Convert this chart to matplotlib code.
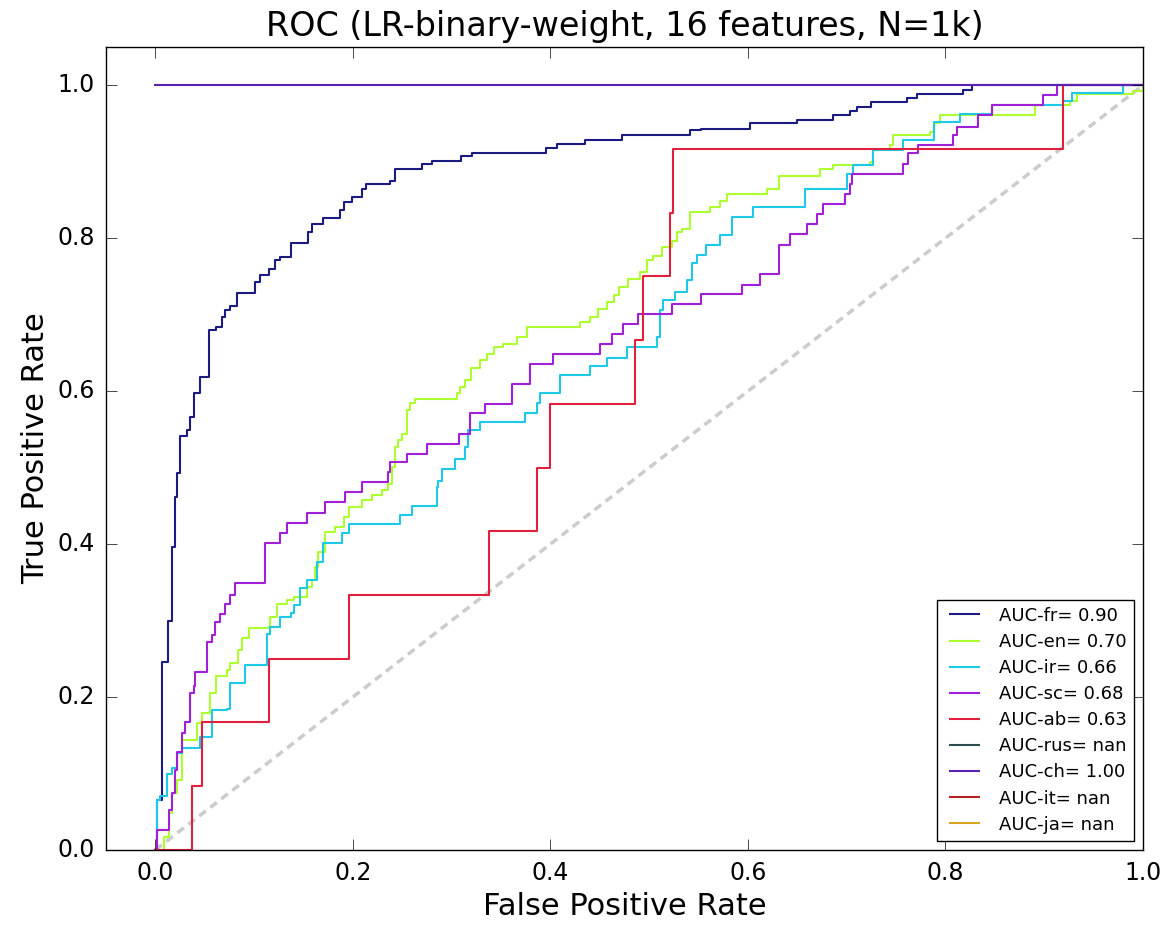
import matplotlib
matplotlib.use('Agg')
import matplotlib.pyplot as plt

# ROC points (fpr where each step rises, tpr after the step)
fpr_fr = [0, 0.002, 0.007, 0.013, 0.017, 0.020, 0.022, 0.025, 0.032, 0.035, 0.039, 0.0455, 0.054,
          0.061, 0.0675, 0.071, 0.076, 0.083, 0.101, 0.106, 0.115, 0.1215, 0.1265, 0.137, 0.155,
          0.159, 0.170, 0.187, 0.191, 0.199, 0.209, 0.213, 0.238, 0.243, 0.270, 0.280, 0.309,
          0.3205, 0.396, 0.4065, 0.435, 0.473, 0.5415, 0.552, 0.602, 0.6495, 0.686, 0.703, 0.710,
          0.725, 0.761, 0.771, 0.818, 0.827, 1.0]
tpr_fr = [0, 0.065, 0.246, 0.300, 0.396, 0.462, 0.493, 0.542, 0.549, 0.566, 0.597, 0.619, 0.680,
          0.684, 0.697, 0.706, 0.712, 0.728, 0.743, 0.752, 0.760, 0.771, 0.776, 0.794, 0.808,
          0.819, 0.827, 0.837, 0.848, 0.854, 0.865, 0.871, 0.875, 0.890, 0.897, 0.901, 0.907,
          0.912, 0.918, 0.9235, 0.929, 0.935, 0.941, 0.943, 0.951, 0.9545, 0.961, 0.966, 0.972,
          0.978, 0.984, 0.989, 0.994, 1.0, 1.0]

fpr_en = [0, 0.0084, 0.0135, 0.017, 0.022, 0.027, 0.042, 0.0475, 0.0557, 0.061, 0.0725, 0.076,
          0.084, 0.088, 0.0945, 0.1147, 0.116, 0.123, 0.133, 0.14, 0.1535, 0.1585, 0.162, 0.165,
          0.172, 0.182, 0.1906, 0.1957, 0.209, 0.219, 0.2295, 0.236, 0.2396, 0.243, 0.246, 0.2497,
          0.2547, 0.258, 0.263, 0.3054, 0.3087, 0.314, 0.32, 0.329, 0.336, 0.3424, 0.352, 0.366,
          0.376, 0.430, 0.4406, 0.4487, 0.457, 0.464, 0.469, 0.479, 0.4906, 0.4977, 0.504, 0.513,
          0.523, 0.528, 0.533, 0.5415, 0.5617, 0.5718, 0.5786, 0.619, 0.631, 0.673, 0.686, 0.724,
          0.727, 0.744, 0.747, 0.784, 0.788, 0.794, 0.891, 0.926, 0.933, 0.99, 1.0]
tpr_en = [0, 0.017, 0.048, 0.074, 0.092, 0.144, 0.166, 0.179, 0.205, 0.227, 0.235, 0.244,
          0.261, 0.277, 0.290, 0.292, 0.305, 0.322, 0.327, 0.331, 0.344, 0.353, 0.370, 0.390,
          0.416, 0.423, 0.436, 0.449, 0.4575, 0.464, 0.471, 0.479, 0.501, 0.527, 0.536, 0.544,
          0.575, 0.584, 0.590, 0.597, 0.606, 0.614, 0.630, 0.6405, 0.649, 0.658, 0.662, 0.671,
          0.684, 0.690, 0.697, 0.708, 0.717, 0.7255, 0.736, 0.747, 0.756, 0.771, 0.777, 0.789,
          0.797, 0.808, 0.8125, 0.834, 0.841, 0.849, 0.8575, 0.865, 0.881, 0.891, 0.8955, 0.900,
          0.915, 0.922, 0.935, 0.939, 0.951, 0.961, 0.974, 0.980, 0.989, 0.993, 1.0]

fpr_ir = [0, 0.002, 0.0052, 0.0118, 0.017, 0.022, 0.027, 0.0455, 0.0573, 0.0725, 0.076, 0.091,
          0.113, 0.116, 0.1265, 0.137, 0.14, 0.1468, 0.1535, 0.1636, 0.170, 0.189, 0.1957, 0.248,
          0.260, 0.285, 0.2867, 0.290, 0.3036, 0.314, 0.317, 0.329, 0.3745, 0.386, 0.3897, 0.410,
          0.440, 0.457, 0.4774, 0.5077, 0.511, 0.5145, 0.526, 0.538, 0.543, 0.548, 0.558, 0.5718,
          0.5836, 0.6056, 0.658, 0.700, 0.7068, 0.727, 0.757, 0.788, 0.815, 0.847, 0.919, 0.928,
          0.98, 1.0]
tpr_ir = [0, 0.065, 0.070, 0.100, 0.107, 0.127, 0.133, 0.148, 0.183, 0.185, 0.218, 0.242,
          0.283, 0.292, 0.305, 0.310, 0.320, 0.342, 0.353, 0.377, 0.401, 0.414, 0.426, 0.438,
          0.4497, 0.475, 0.483, 0.4987, 0.511, 0.527, 0.549, 0.560, 0.571, 0.585, 0.597, 0.621,
          0.633, 0.644, 0.658, 0.671, 0.706, 0.719, 0.730, 0.745, 0.767, 0.778, 0.791, 0.804,
          0.828, 0.841, 0.865, 0.8845, 0.8954, 0.915, 0.928, 0.952, 0.963, 0.974, 0.980, 0.990,
          1.0, 1.0]

fpr_sc = [0, 0.002, 0.0135, 0.017, 0.020, 0.022, 0.027, 0.030, 0.0354, 0.039, 0.0405, 0.0523,
          0.0573, 0.0607, 0.0658, 0.0708, 0.076, 0.081, 0.111, 0.1265, 0.133, 0.1535, 0.172,
          0.192, 0.209, 0.236, 0.238, 0.2547, 0.275, 0.307, 0.319, 0.334, 0.361, 0.3796, 0.403,
          0.4504, 0.462, 0.474, 0.489, 0.523, 0.553, 0.5937, 0.612, 0.631, 0.6427, 0.6596, 0.6697,
          0.676, 0.698, 0.7034, 0.705, 0.757, 0.7625, 0.7726, 0.808, 0.8114, 0.8333, 0.847, 0.899,
          0.9126, 1.0]
tpr_sc = [0, 0.026, 0.052, 0.074, 0.105, 0.128, 0.153, 0.168, 0.205, 0.214, 0.233, 0.272,
          0.281, 0.298, 0.309, 0.322, 0.333, 0.349, 0.402, 0.414, 0.428, 0.441, 0.4545,
          0.4675, 0.4806, 0.494, 0.507, 0.518, 0.531, 0.5445, 0.571, 0.583, 0.610, 0.636, 0.649,
          0.662, 0.675, 0.688, 0.701, 0.7145, 0.727, 0.7386, 0.753, 0.791, 0.805, 0.818, 0.832,
          0.845, 0.8575, 0.871, 0.8845, 0.8975, 0.911, 0.9216, 0.9346, 0.9455, 0.961, 0.974, 0.987,
          1.0, 1.0]

fpr_ab = [0, 0.037, 0.047, 0.1147, 0.196, 0.3374, 0.386, 0.400, 0.4858, 0.494, 0.5213, 0.5246,
          0.919, 1.0]
tpr_ab = [0, 0.0833, 0.1667, 0.25, 0.3333, 0.4167, 0.5, 0.5833, 0.6667, 0.75, 0.8333, 0.9167,
          1.0, 1.0]

fpr_ch = [0, 1.0]
tpr_ch = [1.0, 1.0]

labels = ['AUC-fr= 0.90', 'AUC-en= 0.70', 'AUC-ir= 0.66', 'AUC-sc= 0.68', 'AUC-ab= 0.63',
          'AUC-rus= nan', 'AUC-ch= 1.00', 'AUC-it= nan', 'AUC-ja= nan']
colors = ['#1a1a80', '#adff2f', '#1ec8e8', '#a21fd8', '#e0203c',
          '#2f4f4f', '#5a22b0', '#b22222', '#daa520']

curves = [(fpr_fr, tpr_fr), (fpr_en, tpr_en), (fpr_ir, tpr_ir), (fpr_sc, tpr_sc),
          (fpr_ab, tpr_ab), ([], []), (fpr_ch, tpr_ch), ([], []), ([], [])]

plt.style.use('classic')
fig = plt.figure(figsize=(11.67, 9.26), dpi=100, facecolor='white')
ax = fig.add_axes([0.0908, 0.0821, 0.8886, 0.8671])
ax.set_facecolor('white')

ax.plot([0, 1], [0, 1], '--', color='#cccccc', lw=2.5, dashes=(6, 4))
for (fx, ty), c, lab in zip(curves, colors, labels):
    ax.step(fx, ty, where='post', color=c, lw=1.5, label=lab)

ax.set_xlim(-0.05, 1.0)
ax.set_ylim(0.0, 1.05)
ax.set_xticks([0.0, 0.2, 0.4, 0.6, 0.8, 1.0])
ax.set_yticks([0.0, 0.2, 0.4, 0.6, 0.8, 1.0])
ax.tick_params(labelsize=17, direction='in', length=8, pad=8)
ax.set_xlabel('False Positive Rate', fontsize=22)
ax.set_ylabel('True Positive Rate', fontsize=22)
ax.set_title('ROC (LR-binary-weight, 16 features, N=1k)', fontsize=24, y=1.005)
ax.legend(loc='lower right', fontsize=13, handlelength=2.2, borderpad=0.4, labelspacing=0.45)

fig.savefig('out.png', dpi=100, facecolor='white')
